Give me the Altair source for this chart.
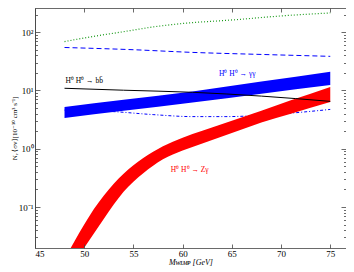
import altair as alt
import pandas as pd

# ---------------- data ----------------
x_tick_values = [45, 50, 55, 60, 65, 70, 75]
y_major_ticks = [0.1, 1, 10, 100]
y_minor_ticks = [0.03, 0.04, 0.05, 0.06, 0.07, 0.08, 0.09,
                 0.2, 0.3, 0.4, 0.5, 0.6, 0.7, 0.8, 0.9,
                 2, 3, 4, 5, 6, 7, 8, 9,
                 20, 30, 40, 50, 60, 70, 80, 90, 200]

green_mass = [48, 51, 54, 57, 60, 65, 70, 75]
green_val = [69, 85, 102, 123, 141, 162, 190, 214]

dash_mass = [48, 55, 61, 68, 75]
dash_val = [54.6, 50, 45, 41.5, 38.5]

bb_mass = [48, 54, 61, 68, 75]
bb_val = [10.9, 10.1, 9.3, 8.0, 6.5]

gg_mass = [48, 54, 61, 68, 75]
gg_low = [3.38, 4.48, 6.2, 8.8, 12.4]
gg_high = [5.19, 6.9, 9.6, 14.2, 20.9]

dd_mass = [48, 53, 57, 61, 64.4, 70.3, 75]
dd_val = [4.6, 4.33, 3.85, 3.56, 3.56, 4.0, 4.73]

zg_mass = [48, 49, 50, 51, 52, 53, 54, 56, 58, 60, 62, 65, 68, 71, 75]
zg_high = [0.0126, 0.0257, 0.0501, 0.0933, 0.158, 0.251, 0.372, 0.692,
           1.10, 1.55, 2.04, 3.02, 4.47, 6.76, 11.5]
zg_low = [0.0056, 0.0107, 0.020, 0.0355, 0.063, 0.110, 0.182, 0.380,
          0.661, 0.933, 1.23, 1.86, 2.82, 3.98, 6.31]

label_text = ["H\u2070 H\u2070 \u2192 bb\u0304", "H\u2070 H\u2070 \u2192 \u03b3\u03b3", "H\u2070 H\u2070 \u2192 Z\u03b3"]
label_mass = [48.1, 63.7, 58.8]
label_val = [14.5, 19.0, 0.433]
label_color = ["#000000", "#0000ff", "#ff0000"]

# ---------------- styling helpers ----------------
SERIF = "Liberation Serif"
XS = alt.Scale(domain=[45, 76.6], nice=False, zero=False)
YS = alt.Scale(type="log", domain=[0.0198, 260], nice=False)

AX = dict(domainColor="#444", tickColor="#444", tickWidth=0.8, domainWidth=0.8,
          labelFont=SERIF, labelFontSize=9, labelColor="black",
          titleFont=SERIF, titleColor="black",
          titleFontWeight="normal", grid=False, zindex=1)

ax_bottom = alt.Axis(orient="bottom", values=x_tick_values, format="d",
                     tickSize={"expr": "-4"}, labelPadding=5,
                     title="M\u1d21\u026a\u1d0d\u1d18 [GeV]", titleFontStyle="italic",
                     titleFontSize=8, titlePadding=0, **AX)
ax_top = alt.Axis(orient="top", values=x_tick_values, labels=False,
                  tickSize={"expr": "-4"}, title=None, **AX)
ax_left = alt.Axis(orient="left", values=y_major_ticks,
                   labelExpr="datum.value >= 50 ? '10\u00b2' : datum.value >= 5 ? '10\u00b9' : datum.value >= 0.5 ? '10\u2070' : '10\u207b\u00b9'",
                   tickSize={"expr": "-5"}, labelPadding=7,
                   title="N\u1d67 \u27e8\u03c3v\u27e9[10\u207b\u00b3\u2070 cm\u00b3 s\u207b\u00b9]",
                   titleFontSize=7, titlePadding=1, **AX)
ax_left_minor = alt.Axis(orient="left", values=y_minor_ticks, labels=False,
                         tickSize={"expr": "-2.5"}, title=None, **AX)
ax_right = alt.Axis(orient="right", values=y_major_ticks, labels=False,
                    tickSize={"expr": "-5"}, title=None, **AX)
ax_right_minor = alt.Axis(orient="right", values=y_minor_ticks, labels=False,
                          tickSize={"expr": "-2.5"}, title=None, **AX)


def X(axis=None):
    return alt.X("m:Q", scale=XS, axis=axis)


def Y(field="v", axis=None):
    return alt.Y(f"{field}:Q", scale=YS, axis=axis)


green_df = pd.DataFrame({"m": green_mass, "v": green_val})
dash_df = pd.DataFrame({"m": dash_mass, "v": dash_val})
bb_df = pd.DataFrame({"m": bb_mass, "v": bb_val})
gg_df = pd.DataFrame({"m": gg_mass, "v": gg_low, "v2": gg_high})
dd_df = pd.DataFrame({"m": dd_mass, "v": dd_val})
zg_df = pd.DataFrame({"m": zg_mass, "v": zg_low, "v2": zg_high})
lab_df = pd.DataFrame({"m": label_mass, "v": label_val, "t": label_text, "c": label_color})

green = alt.Chart(green_df).mark_line(color="#1a9a1a", strokeDash=[1, 2], strokeWidth=1.2,
                                      interpolate="monotone", clip=True).encode(
    x=X(ax_bottom), y=Y(axis=ax_left))
dashed = alt.Chart(dash_df).mark_line(color="#0000ff", strokeDash=[5, 3], strokeWidth=1,
                                      interpolate="monotone", clip=True).encode(
    x=X(ax_top), y=Y(axis=ax_right))
dashdot = alt.Chart(dd_df).mark_line(color="#0000ff", strokeDash=[3, 2, 1, 2], strokeWidth=1,
                                     interpolate="monotone", clip=True).encode(
    x=X(), y=Y(axis=ax_left_minor))
gg = alt.Chart(gg_df).mark_area(color="#0000ff", opacity=1, interpolate="monotone", clip=True).encode(
    x=X(), y=Y(axis=ax_right_minor), y2="v2:Q")
zg = alt.Chart(zg_df).mark_area(color="#ff0000", opacity=1, interpolate="monotone", clip=True).encode(
    x=X(), y=Y(), y2="v2:Q")
bb = alt.Chart(bb_df).mark_line(color="#000000", strokeWidth=1, interpolate="monotone", clip=True).encode(
    x=X(), y=Y())
labels = alt.Chart(lab_df).mark_text(font=SERIF, fontSize=7.5, align="left", baseline="middle").encode(
    x=X(), y=Y(), text="t:N", color=alt.Color("c:N", scale=None))

chart = alt.layer(green, dashed, dashdot, gg, zg, bb, labels).resolve_axis(
    x="independent", y="independent"
).properties(
    width=311, height=240,
    autosize=alt.AutoSizeParams(type="none"),
    padding={"left": 27, "top": 0, "right": 0, "bottom": 18},
).configure_view(stroke=None)

chart.save("out.html", embed_options={"renderer": "svg", "actions": False})
